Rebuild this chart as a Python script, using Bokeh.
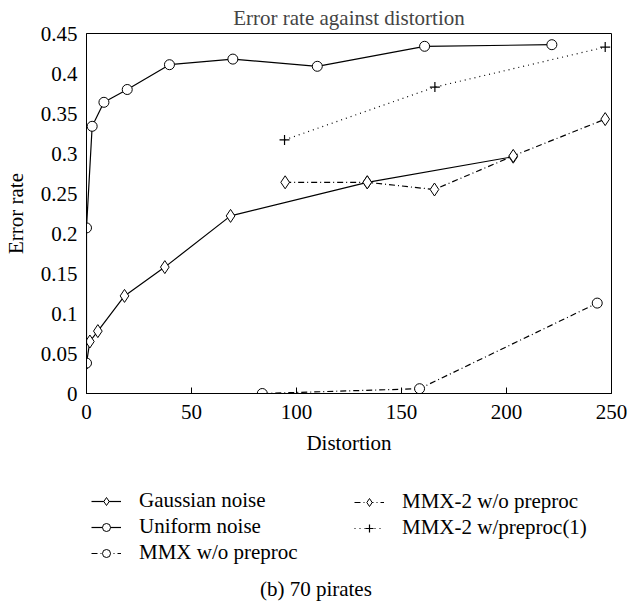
from bokeh.plotting import figure
from bokeh.layouts import column
from bokeh.models import Range1d, FixedTicker, Legend, LegendItem, Label
from bokeh.embed import file_html
from bokeh.resources import INLINE

# ---- data ----
gauss_x = [0, 1.6, 5.4, 18.1, 37.3, 68.6, 133.7, 203.2]
gauss_y = [0.038, 0.065, 0.078, 0.122, 0.158, 0.222, 0.264, 0.296]

uniform_x = [0, 0, 2.7, 8.3, 19.4, 39.5, 69.7, 109.9, 161.0, 221.6]
uniform_y = [0.038, 0.207, 0.334, 0.364, 0.380, 0.411, 0.418, 0.409, 0.434, 0.436]

mmx_x = [83.7, 158.6, 243.2]
mmx_y = [0.0, 0.006, 0.113]

mmx2_x = [94.6, 133.7, 165.7, 203.2, 247.0]
mmx2_y = [0.264, 0.264, 0.255, 0.297, 0.343]

mmx2p_x = [94.3, 165.9, 247.0]
mmx2p_y = [0.317, 0.383, 0.433]

x_ticks = [0, 50, 100, 150, 200, 250]
y_ticks = [0, 0.05, 0.1, 0.15, 0.2, 0.25, 0.3, 0.35, 0.4, 0.45]
y_tick_labels = ["0", "0.05", "0.1", "0.15", "0.2", "0.25", "0.3", "0.35", "0.4", "0.45"]

series_names = ["Gaussian noise", "Uniform noise", "MMX w/o preproc",
                "MMX-2 w/o preproc", "MMX-2 w/preproc(1)"]

FONT = "Liberation Serif"
FS = "21px"

LW = 1.2
DASHDOT = "6 3 1 3"
DOT = "1 4"

styles = [
    dict(dash="solid", marker="diamond", size=13),
    dict(dash="solid", marker="circle", size=10),
    dict(dash=DASHDOT, marker="circle", size=10),
    dict(dash=DASHDOT, marker="diamond", size=13),
    dict(dash=DOT, marker="cross", size=10),
]
series = [(gauss_x, gauss_y), (uniform_x, uniform_y), (mmx_x, mmx_y),
          (mmx2_x, mmx2_y), (mmx2p_x, mmx2p_y)]


def draw_series(fig, xs, ys, st):
    lr = fig.line(xs, ys, line_color="black", line_width=LW, line_dash=st["dash"])
    if st["marker"] == "cross":
        mr = fig.scatter(xs, ys, marker="cross", size=st["size"], line_color="black",
                         line_width=1.2)
    else:
        mr = fig.scatter(xs, ys, marker=st["marker"], size=st["size"], line_color="black",
                         fill_color="white", line_width=1)
    return lr, mr


p = figure(width=627, height=460, output_backend="svg", toolbar_location=None,
           x_range=Range1d(0, 250), y_range=Range1d(0, 0.45),
           min_border_left=85, min_border_right=16, min_border_top=33, min_border_bottom=67)

p.title.text = "Error rate against distortion"
p.title.align = "center"
p.title.text_font = FONT
p.title.text_font_size = FS
p.title.text_font_style = "normal"
p.title.standoff = 7

p.xgrid.visible = False
p.ygrid.visible = False
p.outline_line_color = "black"
p.outline_line_width = 1
p.background_fill_color = "white"
p.border_fill_color = "white"

p.xaxis.ticker = FixedTicker(ticks=x_ticks)
p.yaxis.ticker = FixedTicker(ticks=y_ticks)
p.yaxis.major_label_overrides = {t: l for t, l in zip(y_ticks, y_tick_labels)}
for ax in (p.xaxis[0], p.yaxis[0]):
    ax.axis_line_color = "black"
    ax.major_label_text_font = FONT
    ax.major_label_text_font_size = FS
    ax.axis_label_text_font = FONT
    ax.axis_label_text_font_size = FS
    ax.axis_label_text_font_style = "normal"
    ax.minor_tick_line_color = None
    ax.major_label_text_color = "black"
    ax.axis_label_text_color = "black"
p.xaxis.major_tick_in = 6
p.xaxis.major_tick_out = 0
p.xaxis.major_tick_line_color = "black"
p.yaxis.major_tick_line_color = None
p.xaxis.axis_label = "Distortion"
p.yaxis.axis_label = "Error rate"
p.xaxis.major_label_standoff = 11
p.xaxis.axis_label_standoff = 9
p.yaxis.major_label_standoff = 3
p.yaxis.axis_label_standoff = 10

for (xs, ys), st in zip(series, styles):
    draw_series(p, xs, ys, st)

# ---- legend / caption strip (its ranges keep the series out of view; only the legend shows) ----
p2 = figure(width=627, height=144, output_backend="svg", toolbar_location=None,
            x_range=Range1d(-1000, -999), y_range=Range1d(-1000, -999),
            min_border_left=85, min_border_right=16, min_border_top=0, min_border_bottom=0)
p2.axis.visible = False
p2.xgrid.visible = False
p2.ygrid.visible = False
p2.outline_line_color = None
p2.background_fill_color = "white"
p2.border_fill_color = "white"

items = []
for name, (xs, ys), st in zip(series_names, series, styles):
    lr, mr = draw_series(p2, xs, ys, st)
    items.append(LegendItem(label=name, renderers=[lr, mr]))


def make_legend(its, loc):
    lg = Legend(items=its, location=loc, orientation="vertical")
    lg.label_text_font = FONT
    lg.label_text_font_size = FS
    lg.label_text_color = "black"
    lg.glyph_width = 30
    lg.glyph_height = 20
    lg.label_height = 20
    lg.spacing = 1
    lg.padding = 0
    lg.margin = 0
    lg.label_standoff = 18
    lg.border_line_color = None
    lg.background_fill_alpha = 0
    return lg


p2.add_layout(make_legend(items[:3], (5, 39)))
p2.add_layout(make_legend(items[3:], (268, 64)))

caption = Label(x=232, y=16, x_units="screen", y_units="screen", text="(b)  70 pirates",
                text_font=FONT, text_font_size=FS, text_align="center",
                text_baseline="middle", text_color="black")
p2.add_layout(caption)

open("out.html", "w").write(file_html(column(p, p2, spacing=0), INLINE))
